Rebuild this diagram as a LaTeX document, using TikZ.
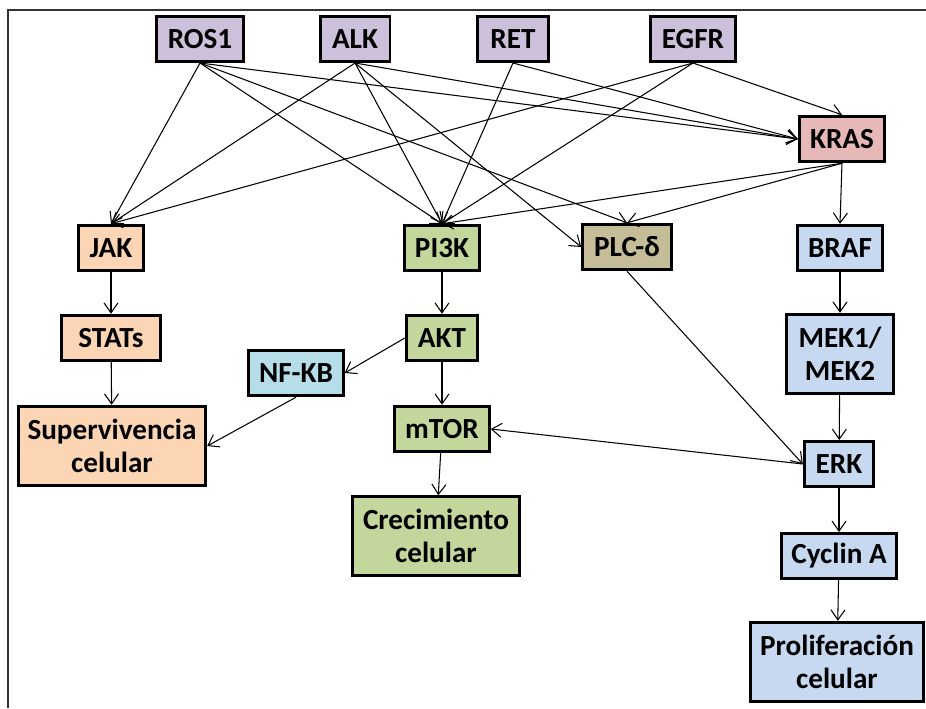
\documentclass[tikz,border=0pt]{standalone}
\usepackage{fontspec}
\setmainfont{Carlito}
\usetikzlibrary{arrows.meta}

\definecolor{lila}{HTML}{CCC0DA}
\definecolor{rosa}{HTML}{E6B9B8}
\definecolor{melocoton}{HTML}{FCD5B5}
\definecolor{verde}{HTML}{C3D69B}
\definecolor{tostado}{HTML}{C4BD97}
\definecolor{celeste}{HTML}{C6D9F1}
\definecolor{aguamarina}{HTML}{B7DEE8}

\begin{document}
\begin{tikzpicture}[x=0.02cm, y=-0.02cm,
    caja/.style={draw, line width=1.7pt, align=center, inner sep=0pt,
        font=\fontsize{16.6}{19}\selectfont\bfseries},
    flecha/.style={-{Straight Barb[length=2mm,width=2.8mm]}, line width=0.6pt}]
        \useasboundingbox (0,0) rectangle (926,708);

        % Marco
        \draw[line width=1.1pt, black!80] (8,708) -- (8,10) -- (926,10);

        % Receptores
        \node[caja, fill=lila, minimum width=1.75cm, minimum height=0.9cm] (ROS1) at (200,39) {ROS1};
        \node[caja, fill=lila, minimum width=1.4cm, minimum height=0.9cm] (ALK) at (355,39) {ALK};
        \node[caja, fill=lila, minimum width=1.41cm, minimum height=0.9cm] (RET) at (513,39) {RET};
        \node[caja, fill=lila, minimum width=1.69cm, minimum height=0.9cm] (EGFR) at (693,39) {EGFR};

        % Nodos intermedios
        \node[caja, fill=rosa, minimum width=1.71cm, minimum height=0.91cm] (KRAS) at (842,139) {KRAS};
        \node[caja, fill=melocoton, minimum width=1.29cm, minimum height=0.91cm] (JAK) at (111,248) {JAK};
        \node[caja, fill=verde, minimum width=1.51cm, minimum height=0.91cm] (PI3K) at (442,248) {PI3K};
        \node[caja, fill=tostado, minimum width=1.77cm, minimum height=0.91cm] (PLC) at (627,247) {PLC-δ};
        \node[caja, fill=celeste, minimum width=1.71cm, minimum height=0.91cm] (BRAF) at (840,248) {BRAF};
        \node[caja, fill=melocoton, minimum width=1.97cm, minimum height=0.91cm] (STATs) at (111,338) {STATs};
        \node[caja, fill=verde, minimum width=1.43cm, minimum height=0.91cm] (AKT) at (442,338) {AKT};
        \node[caja, fill=aguamarina, minimum width=1.89cm, minimum height=0.91cm] (NFKB) at (296,373) {NF-KB};
        \node[caja, fill=celeste, minimum width=2.15cm, minimum height=1.59cm] (MEK) at (840,354) {MEK1/\\MEK2};
        \node[caja, fill=verde, minimum width=1.89cm, minimum height=0.91cm] (mTOR) at (442,429) {mTOR};
        \node[caja, fill=celeste, minimum width=1.39cm, minimum height=0.9cm] (ERK) at (839,464) {ERK};
        \node[caja, fill=celeste, minimum width=2.31cm, minimum height=0.9cm] (CyclinA) at (839,556) {Cyclin A};

        % Respuestas celulares
        \node[caja, fill=melocoton, minimum width=3.75cm, minimum height=1.59cm] (Superv) at (112,446) {Supervivencia\\celular};
        \node[caja, fill=verde, minimum width=3.33cm, minimum height=1.57cm] (Crec) at (436,536) {Crecimiento\\celular};
        \node[caja, fill=celeste, minimum width=3.47cm, minimum height=1.59cm] (Prolif) at (837,662) {Proliferación\\celular};

        % Flechas desde los receptores
        \draw[flecha] (ROS1.south) -- (JAK.north);
        \draw[flecha] (ROS1.south) -- (PI3K.north);
        \draw[flecha] (ROS1.south) -- (PLC.north);
        \draw[flecha] (ROS1.south) -- (KRAS.west);
        \draw[flecha] (ALK.south) -- (JAK.north);
        \draw[flecha] (ALK.south) -- (PI3K.north);
        \draw[flecha] (ALK.south) -- (PLC.west);
        \draw[flecha] (ALK.south) -- (KRAS.west);
        \draw[flecha] (RET.south) -- (PI3K.north);
        \draw[flecha] (RET.south) -- (KRAS.west);
        \draw[flecha] (EGFR.south) -- (JAK.north);
        \draw[flecha] (EGFR.south) -- (PI3K.north);
        \draw[flecha] (EGFR.south) -- (KRAS.north);

        % Flechas desde KRAS
        \draw[flecha] (KRAS.south) -- (PI3K.north);
        \draw[flecha] (KRAS.south) -- (PLC.north);
        \draw[flecha] (KRAS.south) -- (BRAF.north);

        % Cascadas
        \draw[flecha] (JAK) -- (STATs);
        \draw[flecha] (STATs) -- (Superv);
        \draw[flecha] (PI3K) -- (AKT);
        \draw[flecha] (AKT) -- (mTOR);
        \draw[flecha] (mTOR) -- (Crec);
        \draw[flecha] (AKT.west) -- (NFKB.east);
        \draw[flecha] (NFKB.south) -- (Superv.east);
        \draw[flecha] (BRAF) -- (MEK);
        \draw[flecha] (MEK) -- (ERK);
        \draw[flecha] (ERK) -- (CyclinA);
        \draw[flecha] (CyclinA) -- (Prolif);
        \draw[flecha] (PLC.south) -- (ERK.west);
        \draw[flecha] (ERK.west) -- (mTOR.east);
    \end{tikzpicture}
\end{document}
